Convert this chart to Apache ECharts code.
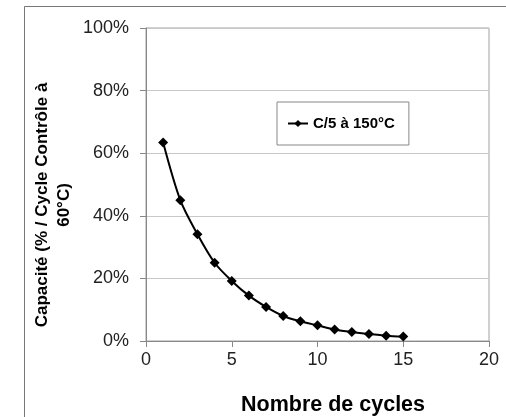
<!DOCTYPE html>
<html>
<head>
<meta charset="utf-8">
<script src="https://cdn.jsdelivr.net/npm/echarts@6/dist/echarts.min.js"></script>
<style>html,body{margin:0;padding:0;background:#fff}#c{width:506px;height:417px}</style>
</head>
<body>
<div id="c"></div>
<script>
const cycles = [1,2,3,4,5,6,7,8,9,10,11,12,13,14,15];
const capacity = [63.4,45.0,34.1,25.0,19.2,14.5,10.9,8.0,6.3,5.0,3.7,2.9,2.2,1.7,1.4];
const seriesName = 'C/5 à 150°C';
const xTitle = 'Nombre de cycles';
const yTitle = 'Capacité (% / Cycle Contrôle à\n60°C)';

const chart = echarts.init(document.getElementById('c'), null, {renderer:'canvas'});
const FONT = '"Liberation Sans", Arial, sans-serif';
chart.setOption({
  animation:false,
  backgroundColor:'#fff',
  textStyle:{fontFamily:FONT},
  grid:{left:146, top:28, right:17, bottom:76, show:true, borderColor:'#a0a0a0', borderWidth:1},
  legend:{
    left:277, top:102, padding:[14,14,14,10], itemWidth:20, itemHeight:9, itemGap:6,
    borderColor:'#888', borderWidth:1, backgroundColor:'#fff',
    textStyle:{fontFamily:FONT, fontWeight:'bold', fontSize:15, color:'#000'},
    data:[seriesName]
  },
  xAxis:{
    type:'value', min:0, max:20, interval:5,
    axisLine:{show:true, lineStyle:{color:'#888', width:1}},
    axisTick:{show:true, inside:false, length:6, lineStyle:{color:'#888'}},
    axisLabel:{fontSize:18, color:'#222', margin:10, fontFamily:FONT},
    splitLine:{show:false}
  },
  yAxis:{
    type:'value', min:0, max:100, interval:20,
    axisLine:{show:true, lineStyle:{color:'#888', width:1}},
    axisTick:{show:true, inside:false, length:6, lineStyle:{color:'#888'}},
    axisLabel:{fontSize:18, color:'#222', margin:17, formatter:'{value}%', fontFamily:FONT},
    splitLine:{show:true, lineStyle:{color:'#c8c8c8', width:1}}
  },
  series:[{
    name:seriesName, type:'line', smooth:0.3,
    data: cycles.map((c,i)=>[c, capacity[i]]),
    symbol:'diamond', symbolSize:10,
    lineStyle:{color:'#000', width:2},
    itemStyle:{color:'#000'}
  }],
  graphic:[
    {type:'rect', left:22, top:4, shape:{width:520, height:430}, style:{fill:'none', stroke:'#777', lineWidth:1}, z:-1, silent:true},
    {type:'text', x:53, y:205, rotation:Math.PI/2,
     style:{text:yTitle, fontFamily:FONT, fontWeight:'bold', fontSize:17, fill:'#000', align:'center', verticalAlign:'middle', lineHeight:22}},
    {type:'text', x:333, y:405,
     style:{text:xTitle, fontFamily:FONT, fontWeight:'bold', fontSize:21.5, fill:'#000', align:'center', verticalAlign:'middle'}}
  ]
});
</script>
</body>
</html>
